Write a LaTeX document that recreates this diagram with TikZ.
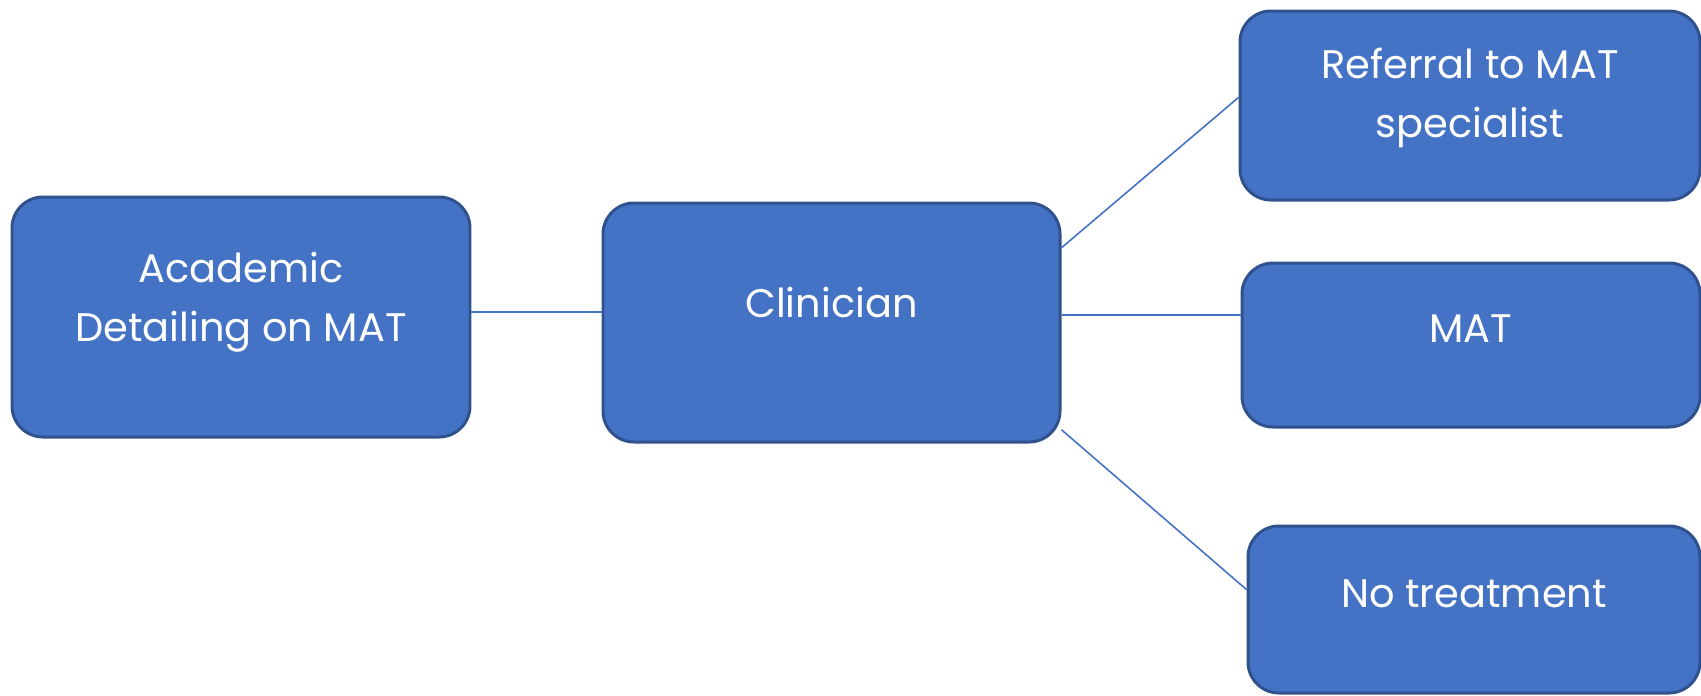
\documentclass[tikz,border=0pt]{standalone}
\usepackage{fontspec}
\setmainfont{Poppins}
\definecolor{boxblue}{HTML}{4472C4}
\definecolor{boxedge}{HTML}{2F528F}

\begin{document}
\begin{tikzpicture}[
        box/.style={draw=boxedge, line width=1.7pt, fill=boxblue, rounded corners=0.62cm, inner sep=0pt},
        boxtext/.style={text=white, align=center, font=\fontsize{22.7}{33.5}\selectfont},
        link/.style={draw=boxblue, line width=0.9pt}]
            \useasboundingbox (0, 0) rectangle (34.02, -13.9);

            \node [box, minimum width=9.16cm, minimum height=4.8cm] (acad) at (4.82, -6.34) {};
            \node [box, minimum width=9.14cm, minimum height=4.78cm] (clin) at (16.63, -6.45) {};
            \node [box, minimum width=9.2cm, minimum height=3.78cm] (refer) at (29.4, -2.11) {};
            \node [box, minimum width=9.16cm, minimum height=3.28cm] (mat) at (29.42, -6.9) {};
            \node [box, minimum width=9.04cm, minimum height=3.34cm] (notreat) at (29.48, -12.19) {};

            \node [boxtext] (acadtext) at (4.82, -6.04) {Academic\\Detailing on MAT};
            \node [boxtext, anchor=base] (clintext) at (16.63, -6.34) {Clinician};
            \node [boxtext] (refertext) at (29.4, -1.96) {Referral to MAT\\specialist};
            \node [boxtext, anchor=base] (mattext) at (29.42, -6.84) {MAT};
            \node [boxtext, anchor=base] (notreattext) at (29.48, -12.14) {No treatment};

            \draw [link] ([yshift=0.1cm]acad.east) -- ([yshift=0.1cm]acad.east -| clin.west);
            \draw [link] (clin.18) -- (refer.178);
            \draw [link] ([yshift=0.15cm]clin.east) -- ([yshift=0.15cm]clin.east -| mat.west);
            \draw [link] (clin.-25) -- (notreat.175);
        \end{tikzpicture}
\end{document}
